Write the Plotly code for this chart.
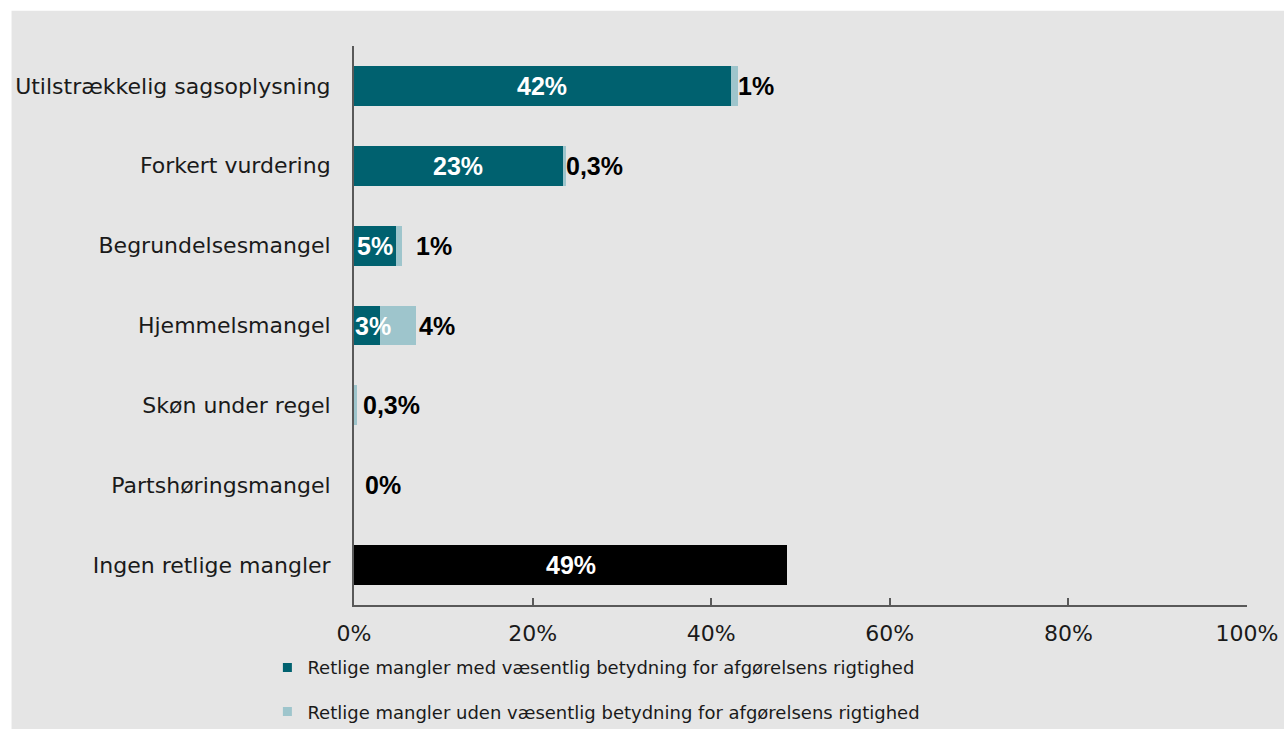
import plotly.graph_objects as go

categories = ["Utilstrækkelig sagsoplysning", "Forkert vurdering", "Begrundelsesmangel",
              "Hjemmelsmangel", "Skøn under regel", "Partshøringsmangel", "Ingen retlige mangler"]
med_betydning = [42.2, 23.4, 4.7, 2.9, 0.0, 0.0, None]
uden_betydning = [0.8, 0.3, 0.7, 4.0, 0.3, 0.0, None]
ingen_mangler = [None, None, None, None, None, None, 48.5]
med_labels = ["42%", "23%", "5%", "3%", "", "", ""]
uden_labels = ["1%", "0,3%", "1%", "4%", "0,3%", "0%", ""]
ingen_labels = ["", "", "", "", "", "", "49%"]
med_label_shift = [0, 0, 0, 6, 0, 0, 0]
uden_label_shift = [-2, -2, 12, 1, 4, 9, 0]
ticks = [0, 20, 40, 60, 80, 100]
tick_text = ["0%", "20%", "40%", "60%", "80%", "100%"]

legend_names = ["Retlige mangler med væsentlig betydning for afgørelsens rigtighed",
                "Retlige mangler uden væsentlig betydning for afgørelsens rigtighed"]

DARK = "#00616f"
LIGHT = "#9ec5cc"
BLACK = "#000000"
BG = "#e5e5e5"
VAL_FONT_W = dict(family="Liberation Sans", size=25, color="white", weight="bold")
VAL_FONT_B = dict(family="Liberation Sans", size=25, color="black", weight="bold")

W, H = 1290, 742
L, R, T, B = 354, 39, 46, 126
PW, PH = W - L - R, H - T - B

fig = go.Figure()
fig.add_trace(go.Bar(y=categories, x=med_betydning, orientation="h", marker_color=DARK,
                     marker_line_width=0, showlegend=False))
fig.add_trace(go.Bar(y=categories, x=uden_betydning, orientation="h", marker_color=LIGHT,
                     marker_line_width=0, showlegend=False))
fig.add_trace(go.Bar(y=categories, x=ingen_mangler, orientation="h", marker_color=BLACK,
                     marker_line_width=0, showlegend=False))

for i, cat in enumerate(categories):
    if med_labels[i]:
        fig.add_annotation(x=med_betydning[i] / 2, y=cat, text=med_labels[i], showarrow=False,
                           xanchor="center", yanchor="middle", xshift=med_label_shift[i],
                           font=VAL_FONT_W)
    if ingen_labels[i]:
        fig.add_annotation(x=ingen_mangler[i] / 2, y=cat, text=ingen_labels[i], showarrow=False,
                           xanchor="center", yanchor="middle", font=VAL_FONT_W)
    if uden_labels[i]:
        end = (med_betydning[i] or 0) + (uden_betydning[i] or 0)
        fig.add_annotation(x=end, y=cat, text=uden_labels[i], showarrow=False,
                           xanchor="left", yanchor="middle", xshift=uden_label_shift[i],
                           font=VAL_FONT_B)

# legend entries
fig.add_trace(go.Scatter(x=[None], y=[None], mode="markers", name=legend_names[0],
                         marker=dict(symbol="square", size=9, color=DARK), legend="legend"))
fig.add_trace(go.Scatter(x=[None], y=[None], mode="markers", name=legend_names[1],
                         marker=dict(symbol="square", size=9, color=LIGHT), legend="legend2"))

legend_font = dict(family="DejaVu Sans", size=18, color="#1a1a1a")
leg_x = (307 - 40 - L) / PW
fig.update_layout(
    width=W, height=H,
    barmode="stack", bargap=0.5,
    paper_bgcolor=BG, plot_bgcolor=BG,
    margin=dict(l=L, r=R, t=T, b=B),
    font=dict(family="DejaVu Sans", size=22, color="#1a1a1a"),
    xaxis=dict(range=[0, 100], tickvals=ticks, ticktext=tick_text, showgrid=False,
               zeroline=False, showline=True, linecolor="#595959", linewidth=2,
               ticks="inside", ticklen=7, tickcolor="#595959", tickwidth=1.5,
               ticklabelstandoff=8, tickfont=dict(family="DejaVu Sans", size=22, color="#1a1a1a")),
    yaxis=dict(categoryorder="array", categoryarray=categories, autorange="reversed",
               showgrid=False, zeroline=False, showline=True, linecolor="#595959", linewidth=2,
               ticks="", ticklabelstandoff=17,
               tickfont=dict(family="DejaVu Sans", size=22, color="#1a1a1a")),
    legend=dict(x=leg_x, y=-(680 - T - PH) / PH, xanchor="left", yanchor="middle",
                bgcolor="rgba(0,0,0,0)", font=legend_font, itemwidth=30),
    legend2=dict(x=leg_x, y=-(725 - T - PH) / PH, xanchor="left", yanchor="middle",
                 bgcolor="rgba(0,0,0,0)", font=legend_font, itemwidth=30),
    shapes=[
        dict(type="rect", xref="paper", yref="paper", x0=-1, x1=2, y0=1 + (T - 10) / PH, y1=1.3,
             fillcolor="white", line_width=0, layer="above"),
        dict(type="rect", xref="paper", yref="paper", x0=-1, x1=-(L - 10) / PW, y0=-0.5, y1=1.3,
             fillcolor="white", line_width=0, layer="above"),
    ],
)

fig.write_html("out.html", config={"displayModeBar": False},
               post_script="document.body.style.margin='0';document.body.style.overflow='hidden';")
